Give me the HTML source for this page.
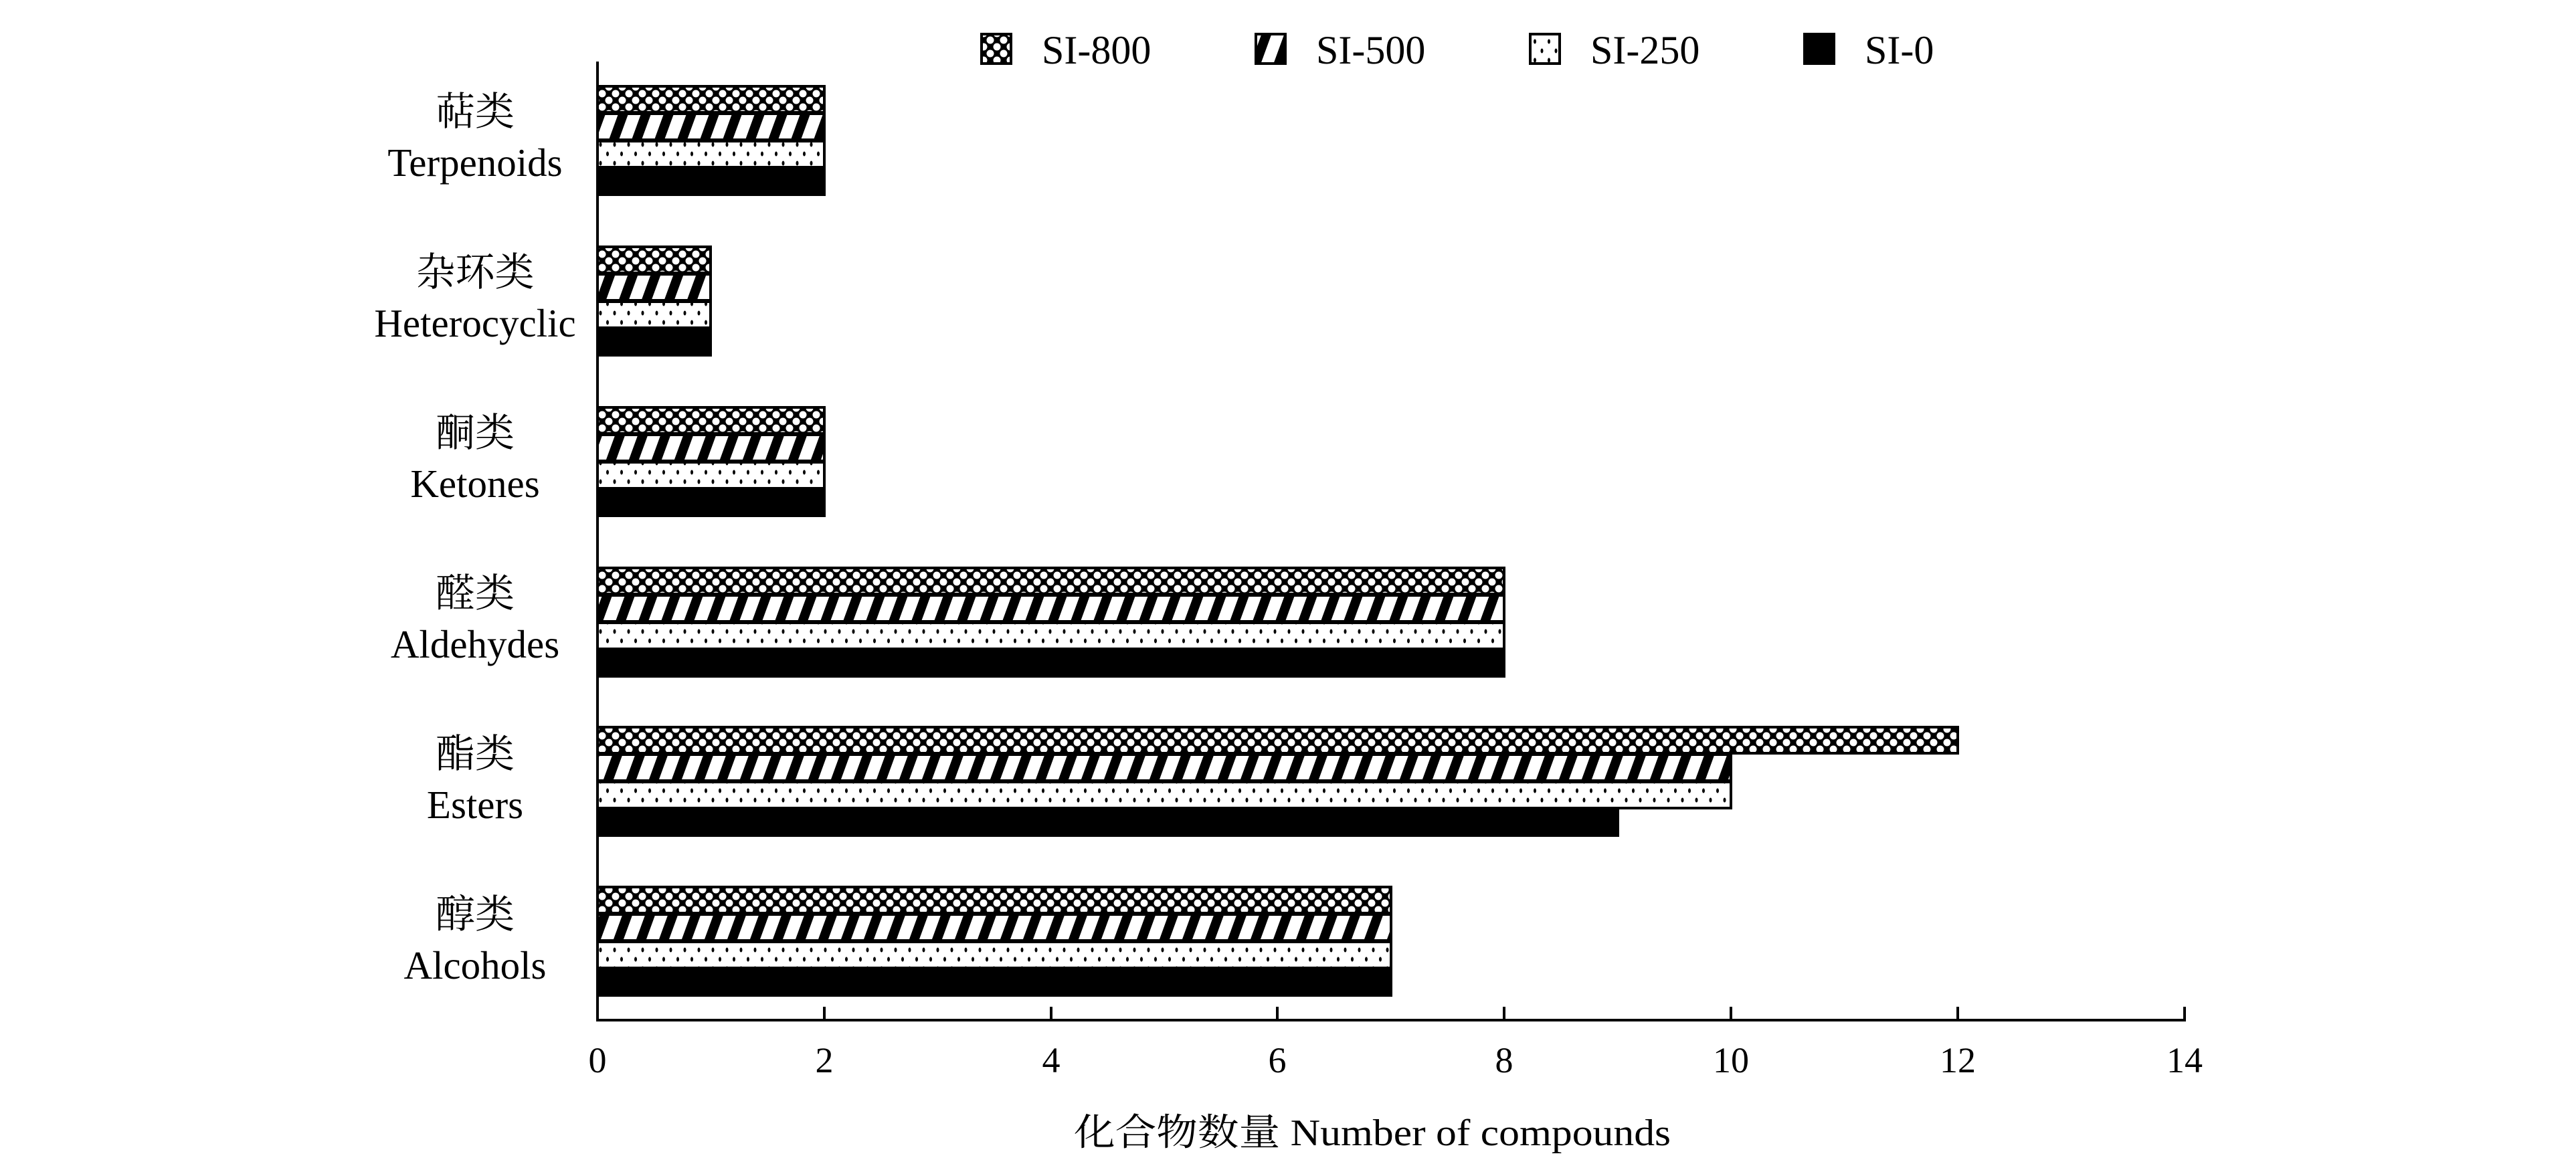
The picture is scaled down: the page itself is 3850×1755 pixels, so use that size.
<!DOCTYPE html>
<html><head><meta charset="utf-8"><style>body{margin:0;background:#fff}svg{display:block}</style></head>
<body>
<svg width="3850" height="1755" viewBox="0 0 3850 1755" xmlns="http://www.w3.org/2000/svg" font-family="'Liberation Serif','Noto Serif CJK SC',serif">
<defs>
<pattern id="cross" width="20" height="20" patternUnits="userSpaceOnUse">
<rect width="20" height="20" fill="#000"/>
<circle cx="10" cy="10" r="5.5" fill="#fff"/><circle cx="0" cy="0" r="5.5" fill="#fff"/><circle cx="20" cy="0" r="5.5" fill="#fff"/><circle cx="0" cy="20" r="5.5" fill="#fff"/><circle cx="20" cy="20" r="5.5" fill="#fff"/>
</pattern>
<pattern id="diag" width="34" height="40" patternUnits="userSpaceOnUse" patternTransform="skewX(-20)">
<rect width="34" height="40" fill="#fff"/><rect x="0" y="0" width="15" height="40" fill="#000"/>
</pattern>
<pattern id="dots" width="21" height="28" patternUnits="userSpaceOnUse">
<rect width="21" height="28" fill="#fff"/><ellipse cx="5" cy="6" rx="2" ry="3.5" fill="#000"/><ellipse cx="15.5" cy="20" rx="2" ry="3.5" fill="#000"/>
</pattern>
</defs>
<g font-size="59" text-anchor="middle" fill="#000">
<text x="710" y="187">萜类</text><text x="710" y="263">Terpenoids</text>
<text x="710" y="427">杂环类</text><text x="710" y="503">Heterocyclic</text>
<text x="710" y="667">酮类</text><text x="710" y="743">Ketones</text>
<text x="710" y="907">醛类</text><text x="710" y="983">Aldehydes</text>
<text x="710" y="1147">酯类</text><text x="710" y="1223">Esters</text>
<text x="710" y="1387">醇类</text><text x="710" y="1463">Alcohols</text>
</g>
<g stroke="#000" stroke-width="4">
<rect x="893" y="129" width="339" height="39" fill="url(#cross)"/><rect x="893" y="170" width="339" height="39" fill="url(#diag)"/><rect x="893" y="211" width="339" height="39" fill="url(#dots)"/><rect x="893" y="252" width="339" height="39" fill="#000"/>
<rect x="893" y="369" width="169" height="39" fill="url(#cross)"/><rect x="893" y="410" width="169" height="39" fill="url(#diag)"/><rect x="893" y="451" width="169" height="39" fill="url(#dots)"/><rect x="893" y="492" width="169" height="39" fill="#000"/>
<rect x="893" y="609" width="339" height="39" fill="url(#cross)"/><rect x="893" y="650" width="339" height="39" fill="url(#diag)"/><rect x="893" y="691" width="339" height="39" fill="url(#dots)"/><rect x="893" y="732" width="339" height="39" fill="#000"/>
<rect x="893" y="849" width="1355" height="39" fill="url(#cross)"/><rect x="893" y="890" width="1355" height="39" fill="url(#diag)"/><rect x="893" y="931" width="1355" height="39" fill="url(#dots)"/><rect x="893" y="972" width="1355" height="39" fill="#000"/>
<rect x="893" y="1087" width="2033" height="39" fill="url(#cross)"/><rect x="893" y="1128" width="1694" height="39" fill="url(#diag)"/><rect x="893" y="1169" width="1694" height="39" fill="url(#dots)"/><rect x="893" y="1210" width="1525" height="39" fill="#000"/>
<rect x="893" y="1326" width="1186" height="39" fill="url(#cross)"/><rect x="893" y="1367" width="1186" height="39" fill="url(#diag)"/><rect x="893" y="1408" width="1186" height="39" fill="url(#dots)"/><rect x="893" y="1449" width="1186" height="39" fill="#000"/>
</g>
<g stroke="#000" stroke-width="4">
<line x1="893" y1="92" x2="893" y2="1527"/>
<line x1="891" y1="1525" x2="3267" y2="1525"/>
<line x1="1232" y1="1505" x2="1232" y2="1525"/><line x1="1571" y1="1505" x2="1571" y2="1525"/><line x1="1909" y1="1505" x2="1909" y2="1525"/><line x1="2248" y1="1505" x2="2248" y2="1525"/><line x1="2587" y1="1505" x2="2587" y2="1525"/><line x1="2926" y1="1505" x2="2926" y2="1525"/><line x1="3265" y1="1505" x2="3265" y2="1525"/>
</g>
<g font-size="54" text-anchor="middle">
<text x="893" y="1603">0</text><text x="1232" y="1603">2</text><text x="1571" y="1603">4</text><text x="1909" y="1603">6</text><text x="2248" y="1603">8</text><text x="2587" y="1603">10</text><text x="2926" y="1603">12</text><text x="3265" y="1603">14</text>
</g>
<text x="1605" y="1712" font-size="56" textLength="892" lengthAdjust="spacingAndGlyphs">化合物数量 Number of compounds</text>
<g stroke="#000" stroke-width="4">
<rect x="1467" y="51" width="44" height="44" fill="url(#cross)"/>
<rect x="1877" y="51" width="44" height="44" fill="url(#diag)"/>
<rect x="2287" y="51" width="44" height="44" fill="url(#dots)"/>
<rect x="2697" y="51" width="44" height="44" fill="#000"/>
</g>
<g font-size="60">
<text x="1557" y="95">SI-800</text><text x="1967" y="95">SI-500</text><text x="2377" y="95">SI-250</text><text x="2787" y="95">SI-0</text>
</g>
</svg>
</body></html>
